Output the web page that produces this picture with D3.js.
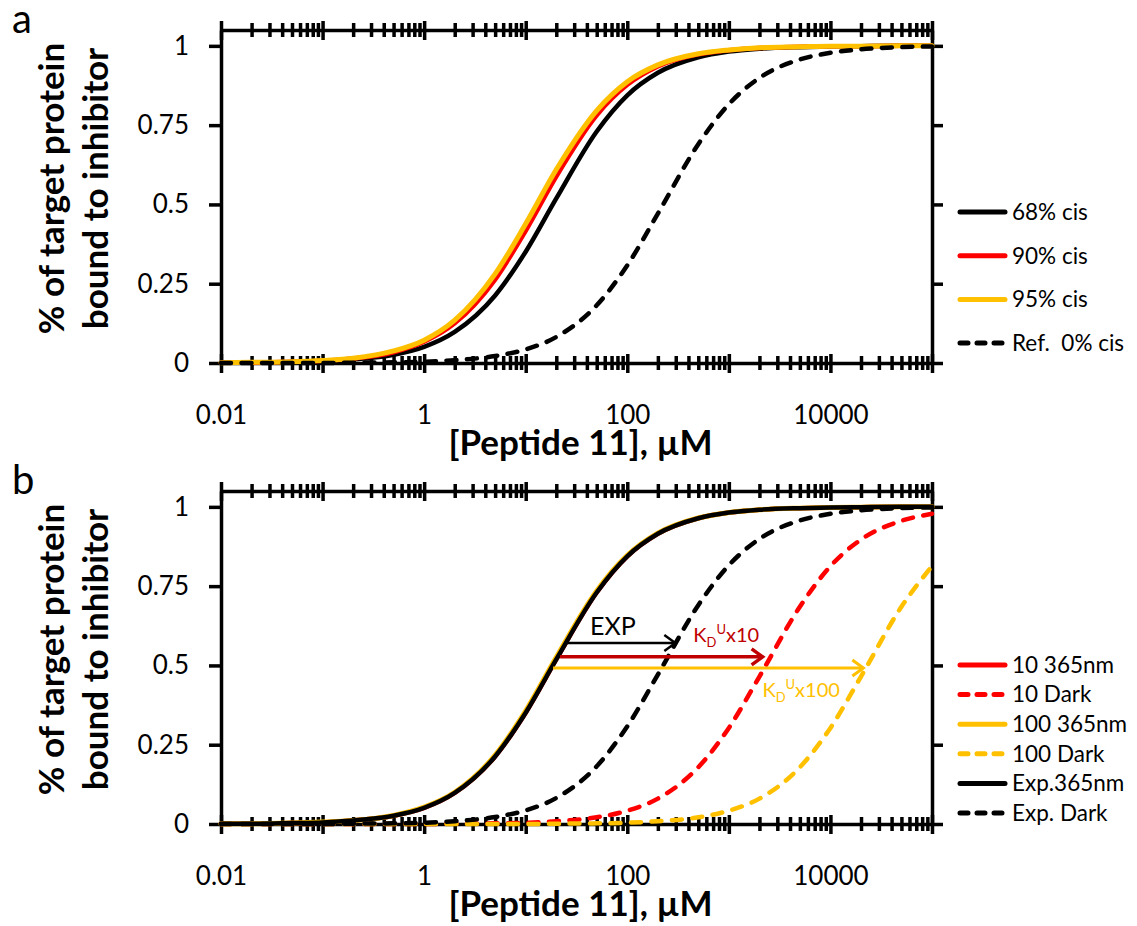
<!DOCTYPE html>
<html>
<head>
<meta charset="utf-8">
<script src="https://cdn.jsdelivr.net/npm/d3@7"></script>
<style>
  body { margin: 0; background: #fff; }
  svg { display: block; font-family: Lato, "Open Sans", sans-serif; }
</style>
</head>
<body>
<div id="chart"></div>
<script>
// concentration points shared by every curve (µM)
const conc = [0.01, 0.02, 0.05, 0.1, 0.2, 0.5, 1, 2, 5, 10, 20, 50, 100, 200, 500, 1000, 2000, 5000, 10000, 20000, 50000, 100000];

// panel a - fraction bound
const cis68 = [0.001, 0.001, 0.003, 0.005, 0.011, 0.026, 0.051, 0.098, 0.213, 0.351, 0.519, 0.730, 0.844, 0.915, 0.964, 0.982, 0.991, 0.996, 0.998, 0.999, 1.000, 1.000];
const cis90 = [0.001, 0.001, 0.004, 0.007, 0.014, 0.034, 0.067, 0.125, 0.263, 0.417, 0.588, 0.781, 0.877, 0.935, 0.973, 0.986, 0.993, 0.997, 0.999, 0.999, 1.000, 1.000];
const cis95 = [0.001, 0.002, 0.004, 0.008, 0.015, 0.038, 0.072, 0.135, 0.281, 0.439, 0.610, 0.796, 0.887, 0.940, 0.975, 0.987, 0.994, 0.997, 0.999, 0.999, 1.000, 1.000];
const cis0  = [0.000, 0.000, 0.000, 0.000, 0.001, 0.002, 0.004, 0.009, 0.022, 0.043, 0.082, 0.182, 0.308, 0.471, 0.690, 0.816, 0.899, 0.957, 0.978, 0.989, 0.996, 0.998];

// panel b
const uv10    = [0.001, 0.001, 0.003, 0.005, 0.011, 0.026, 0.051, 0.098, 0.213, 0.351, 0.519, 0.730, 0.844, 0.915, 0.964, 0.982, 0.991, 0.996, 0.998, 0.999, 1.000, 1.000];
const dark10  = [0.000, 0.000, 0.000, 0.000, 0.000, 0.000, 0.000, 0.001, 0.002, 0.004, 0.009, 0.021, 0.042, 0.080, 0.179, 0.303, 0.465, 0.685, 0.813, 0.897, 0.956, 0.978];
const uv100   = [0.001, 0.001, 0.003, 0.006, 0.011, 0.027, 0.053, 0.100, 0.217, 0.357, 0.526, 0.735, 0.847, 0.917, 0.965, 0.982, 0.991, 0.996, 0.998, 0.999, 1.000, 1.000];
const dark100 = [0.000, 0.000, 0.000, 0.000, 0.000, 0.000, 0.000, 0.000, 0.000, 0.000, 0.001, 0.002, 0.004, 0.009, 0.021, 0.042, 0.080, 0.179, 0.303, 0.465, 0.685, 0.813];
const expUv   = [0.001, 0.001, 0.003, 0.005, 0.011, 0.026, 0.051, 0.098, 0.213, 0.351, 0.519, 0.730, 0.844, 0.915, 0.964, 0.982, 0.991, 0.996, 0.998, 0.999, 1.000, 1.000];
const expDark = [0.000, 0.000, 0.000, 0.000, 0.001, 0.002, 0.004, 0.009, 0.022, 0.043, 0.082, 0.182, 0.308, 0.471, 0.690, 0.816, 0.899, 0.957, 0.978, 0.989, 0.996, 0.998];

// ticks
const xTickLabels = [0.01, 1, 100, 10000];
const yTicks = [0, 0.25, 0.5, 0.75, 1];
const yTickLabels = ["0", "0.25", "0.5", "0.75", "1"];

// arrows in panel b: from / to concentration, at a bound level
const arrows = [
  {from: 25.6, to: 297, y: 0.571, color: "#000", w: 2.5},
  {from: 21.8, to: 2150, y: 0.527, color: "#c00000", w: 3.5},
  {from: 18.6, to: 21100, y: 0.492, color: "#ffc000", w: 3}
];

const red = "#ff0000", gold = "#ffc000";

const W = 1137, H = 926;
const svg = d3.select("#chart").append("svg").attr("width", W).attr("height", H);

const x = d3.scaleLog().domain([0.01, 100000]).range([221, 932]);

function isMajor(d) {
  return Math.abs(Math.log10(d) - Math.round(Math.log10(d))) < 1e-9;
}

function panel(top, letter, series, legendTop, legendStep) {
  const g = svg.append("g");
  const y = d3.scaleLinear().domain([0, 1.05]).range([top + 333, top]);

  // horizontal log axes, bottom (y = 0) and top (y = 1.05), ticks cross the line
  [y(0), y(1.05)].forEach(pos => {
    const a = g.append("g").attr("transform", `translate(0,${pos})`)
      .call(d3.axisBottom(x).tickValues(x.ticks()).tickFormat("").tickSizeOuter(0));
    a.select(".domain").attr("stroke-width", 3.5);
    a.selectAll(".tick line")
      .attr("y1", d => isMajor(d) ? -9 : -7)
      .attr("y2", d => isMajor(d) ? 10 : 7)
      .attr("stroke-width", 3.5);
  });

  // x tick labels
  const xl = g.append("g").attr("transform", `translate(0,${y(0)})`)
    .call(d3.axisBottom(x).tickValues(xTickLabels).tickSize(0).tickPadding(43)
      .tickFormat(d => d3.format("")(d)));
  xl.select(".domain").remove();
  xl.selectAll("text").attr("font-size", 26).attr("font-family", "Lato").attr("fill", "#000");

  // left and right value axes
  const yl = g.append("g").attr("transform", `translate(${x.range()[0]},0)`)
    .call(d3.axisLeft(y).tickValues(yTicks).tickSize(12).tickPadding(20)
      .tickFormat((d, i) => yTickLabels[i]).tickSizeOuter(0));
  yl.select(".domain").attr("stroke-width", 3.5);
  yl.selectAll(".tick line").attr("stroke-width", 3.5);
  yl.selectAll("text").attr("font-size", 26).attr("font-family", "Lato").attr("fill", "#000");

  const yr = g.append("g").attr("transform", `translate(${x.range()[1]},0)`)
    .call(d3.axisRight(y).tickValues(yTicks).tickSize(11).tickFormat("").tickSizeOuter(0));
  yr.select(".domain").attr("stroke-width", 3.5);
  yr.selectAll(".tick line").attr("stroke-width", 3.5);

  // curves
  const line = d3.line().x((d, i) => x(conc[i])).y(d => y(d)).curve(d3.curveMonotoneX);
  series.forEach(s => {
    g.append("path").datum(s.values)
      .attr("fill", "none")
      .attr("stroke", s.color)
      .attr("stroke-width", s.w)
      .attr("stroke-linecap", "round")
      .attr("stroke-dasharray", s.dash ? "10,10.5" : null)
      .attr("d", line);
  });

  // legend
  const legendOrder = series.slice().sort((a, b) => a.order - b.order);
  legendOrder.forEach((s, i) => {
    const ly = legendTop + i * legendStep;
    g.append("line").attr("x1", 960).attr("x2", 1005).attr("y1", ly).attr("y2", ly)
      .attr("stroke", s.color).attr("stroke-width", 5).attr("stroke-linecap", "round")
      .attr("stroke-dasharray", s.dash ? "8,9" : null);
    g.append("text").attr("x", 1012).attr("y", ly).attr("dy", "0.35em")
      .attr("font-size", 22.5).style("white-space", "pre").text(s.name);
  });

  // axis titles
  g.append("text").attr("x", (x.range()[0] + x.range()[1]) / 2 + 4).attr("y", y(0) + 92)
    .attr("text-anchor", "middle").attr("font-weight", "bold").attr("font-size", 35)
    .text("[Peptide 11], µM");
  const yc = (y(0) + y(1.05)) / 2 - 8;
  const yt = g.append("text").attr("transform", `translate(64,${yc}) rotate(-90)`)
    .attr("text-anchor", "middle").attr("font-weight", "bold").attr("font-size", 35);
  yt.append("tspan").attr("x", 0).attr("y", 0).text("% of target protein");
  yt.append("tspan").attr("x", 0).attr("y", 44).text("bound to inhibitor");

  g.append("text").attr("x", 12).attr("y", top + 3).attr("font-size", 40).text(letter);

  return {g, y};
}

panel(30, "a", [
  {name: "68% cis", values: cis68, color: "#000", w: 4.5, order: 0},
  {name: "90% cis", values: cis90, color: red, w: 4.5, order: 1},
  {name: "95% cis", values: cis95, color: gold, w: 5, order: 2},
  {name: "Ref.  0% cis", values: cis0, color: "#000", w: 4.5, dash: true, order: 3}
], 212, 43.7);

const pb = panel(491, "b", [
  {name: "10 365nm", values: uv10, color: red, w: 4.5, order: 0},
  {name: "10 Dark", values: dark10, color: red, w: 4.5, dash: true, order: 1},
  {name: "100 365nm", values: uv100, color: gold, w: 5, order: 2},
  {name: "100 Dark", values: dark100, color: gold, w: 4.5, dash: true, order: 3},
  {name: "Exp.365nm", values: expUv, color: "#000", w: 4.5, order: 4},
  {name: "Exp. Dark", values: expDark, color: "#000", w: 4.5, dash: true, order: 5}
], 665, 29.6);

// arrows and their labels in panel b
arrows.forEach(a => {
  const x1 = x(a.from), x2 = x(a.to), yy = pb.y(a.y);
  pb.g.append("line").attr("x1", x1).attr("x2", x2).attr("y1", yy).attr("y2", yy)
    .attr("stroke", a.color).attr("stroke-width", a.w);
  pb.g.append("path").attr("d", `M${x2 - 11},${yy - 8}L${x2},${yy}L${x2 - 11},${yy + 8}`)
    .attr("fill", "none").attr("stroke", a.color).attr("stroke-width", a.w)
    .attr("stroke-linejoin", "miter");
});

pb.g.append("text").attr("x", x(43)).attr("y", pb.y(0.596)).attr("font-size", 25).text("EXP");

function kdLabel(cx, cy, txt, color) {
  const t = pb.g.append("text").attr("x", x(cx)).attr("y", pb.y(cy)).attr("fill", color).attr("font-size", 20);
  t.append("tspan").text("K");
  t.append("tspan").attr("font-size", 13).attr("dy", 5).text("D");
  t.append("tspan").attr("font-size", 13).attr("dy", -13).text("U");
  t.append("tspan").attr("dy", 8).text(txt);
}
kdLabel(447, 0.574, "x10", "#c00000");
kdLabel(2140, 0.40, "x100", gold);
</script>
</body>
</html>
